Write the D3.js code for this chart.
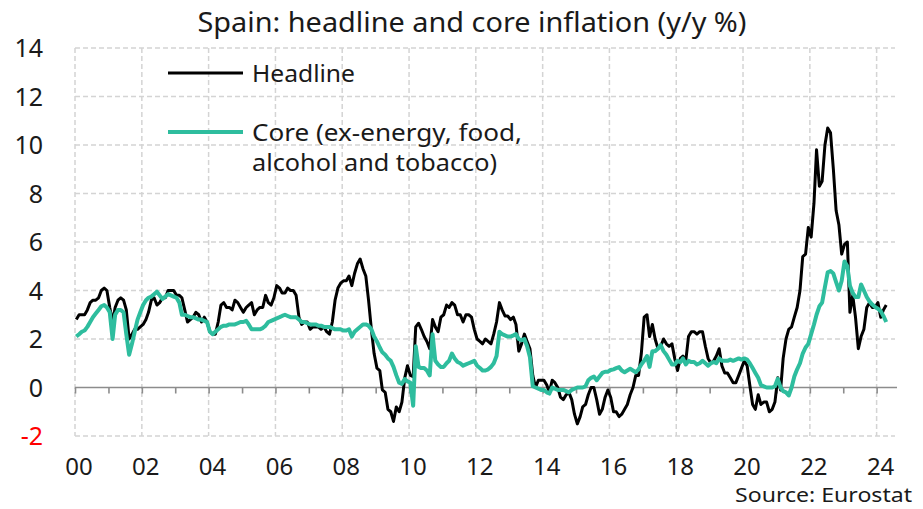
<!DOCTYPE html>
<html><head><meta charset="utf-8">
<script src="https://cdn.jsdelivr.net/npm/d3@7"></script>
<style>
html,body{margin:0;padding:0;background:#fff;}
svg text{font-family:"Noto Sans","Open Sans",sans-serif;fill:#1a1a1a;}
</style></head>
<body><svg id="c" width="923" height="509"></svg>
<script>
const startYear = 2000;
const headline = [
2.8,3.0,3.0,3.0,3.2,3.5,3.6,3.6,3.7,4.0,4.1,4.0,
3.3,2.7,3.3,3.6,3.7,3.6,3.2,2.0,2.2,2.4,2.4,2.5,
2.6,2.8,3.1,3.6,3.7,3.4,3.5,3.7,3.7,4.0,4.0,4.0,
3.8,3.8,3.7,3.2,2.7,2.8,2.9,3.1,3.0,2.7,2.9,2.7,
2.3,2.2,2.2,2.7,3.4,3.5,3.3,3.3,3.2,3.6,3.5,3.3,
3.1,3.3,3.4,3.5,3.0,3.2,3.3,3.3,3.8,3.5,3.4,3.7,
4.2,4.1,3.9,3.9,4.1,4.0,4.0,3.8,2.9,2.6,2.7,2.7,
2.4,2.5,2.5,2.5,2.4,2.5,2.3,2.2,2.7,3.6,4.1,4.3,
4.4,4.4,4.6,4.2,4.7,5.1,5.3,4.9,4.6,3.6,2.4,1.4,
0.8,0.7,-0.1,-0.2,-0.9,-1.0,-1.4,-0.8,-1.0,-0.6,0.4,0.9,
0.5,0.45,2.5,2.65,2.4,2.1,1.9,1.6,2.8,2.5,2.3,2.9,
3.0,3.4,3.3,3.5,3.4,3.0,3.0,2.7,3.0,3.0,2.9,2.4,
2.0,1.9,1.8,2.0,1.9,1.8,2.2,2.7,3.5,3.2,2.95,2.95,
2.8,2.9,2.6,1.5,1.8,2.2,1.9,1.6,0.5,0.0,0.3,0.3,
0.3,0.1,-0.2,0.3,0.2,0.0,-0.4,-0.5,-0.3,-0.2,-0.5,-1.1,
-1.5,-1.2,-0.8,-0.7,-0.3,0.0,0.0,-0.5,-1.1,-0.9,-0.4,-0.1,
-0.4,-1.0,-1.0,-1.2,-1.1,-0.9,-0.7,-0.3,0.0,0.5,0.5,1.4,
2.9,3.0,2.1,2.6,2.0,1.6,1.7,2.0,1.8,1.7,1.8,1.2,
0.7,1.2,1.3,1.1,2.1,2.3,2.3,2.2,2.3,2.3,1.7,1.2,
1.0,1.1,1.3,1.6,0.9,0.6,0.6,0.4,0.2,0.2,0.5,0.8,
1.1,0.9,0.1,-0.7,-0.9,-0.3,-0.7,-0.6,-0.6,-1.0,-0.9,-0.6,
0.4,-0.1,1.2,2.0,2.4,2.5,2.9,3.3,4.0,5.4,5.5,6.6,
6.2,7.6,9.8,8.3,8.5,10.0,10.7,10.5,9.0,7.3,6.7,5.5,
5.9,6.0,3.1,3.8,2.9,1.6,2.1,2.4,3.3,3.5,3.3,3.3,
3.5,2.9,3.2,3.4
];
const core = [
2.1,2.2,2.3,2.35,2.5,2.7,2.9,3.05,3.2,3.35,3.4,3.3,
3.1,2.0,3.0,3.2,3.2,3.1,2.2,1.35,1.8,2.3,2.8,3.1,
3.4,3.6,3.7,3.75,3.85,3.95,3.8,3.65,3.75,3.85,3.8,3.75,
3.7,3.5,3.0,3.0,2.95,2.9,2.9,2.85,2.8,2.8,2.75,2.7,
2.3,2.2,2.3,2.4,2.5,2.55,2.55,2.6,2.6,2.6,2.65,2.7,
2.7,2.75,2.6,2.4,2.4,2.4,2.4,2.45,2.55,2.7,2.75,2.8,
2.85,2.9,2.95,3.0,2.95,2.9,2.9,2.9,2.8,2.7,2.7,2.65,
2.6,2.6,2.6,2.55,2.55,2.5,2.5,2.5,2.45,2.4,2.4,2.4,
2.35,2.35,2.4,2.1,2.3,2.4,2.5,2.6,2.6,2.55,2.4,2.1,
1.9,1.65,1.45,1.35,1.2,1.1,0.85,0.5,0.2,0.15,0.35,0.25,
0.2,-0.75,1.7,0.85,0.8,0.8,0.7,0.5,2.2,1.1,0.95,0.85,
0.85,1.0,1.1,1.4,1.2,1.05,1.0,0.9,0.95,1.0,1.05,1.1,
0.9,0.8,0.7,0.7,0.75,0.85,1.0,1.3,2.3,2.2,2.15,2.1,
2.1,2.15,2.2,2.0,1.95,2.0,1.7,1.25,0.05,0.0,-0.05,-0.1,
-0.1,-0.2,-0.25,0.0,-0.05,-0.1,-0.1,-0.1,-0.15,-0.2,-0.1,-0.05,
0.0,0.0,0.0,0.05,0.3,0.4,0.45,0.3,0.45,0.6,0.65,0.65,
0.72,0.75,0.8,0.84,0.7,0.63,0.7,0.77,0.7,0.63,0.75,0.95,
1.1,1.3,0.85,1.5,1.5,1.6,1.75,1.5,1.35,1.15,0.95,0.95,
1.1,1.05,1.2,0.95,1.1,1.05,1.05,0.95,1.0,1.1,1.0,0.9,
1.0,1.05,1.0,1.2,1.1,1.1,1.1,1.15,1.1,1.15,1.2,1.15,
1.2,1.15,1.0,0.8,0.6,0.4,0.1,0.05,0.0,0.0,0.0,0.05,
0.36,0.0,-0.15,-0.2,-0.33,0.0,0.45,0.75,1.0,1.4,1.65,1.8,
2.2,2.6,3.0,3.35,3.5,4.15,4.75,4.8,4.7,4.35,4.0,4.4,
5.2,5.0,4.2,3.9,3.73,3.73,4.25,4.0,3.73,3.55,3.42,3.32,
3.25,3.15,2.95,2.7
];
const yTicks = [-2,0,2,4,6,8,10,12,14];
const xLabelYears = [2000,2002,2004,2006,2008,2010,2012,2014,2016,2018,2020,2022,2024];
const seriesNames = ["Headline", "Core (ex-energy, food,", "alcohol and tobacco)"];
const titleText = "Spain: headline and core inflation (y/y %)";
const sourceText = "Source: Eurostat";

const colHead = "#000000", colCore = "#2ebd9e";
const svg = d3.select("#c");
const L = 75, R = 895, T = 48, B = 436;
const x = d3.scaleUtc().domain([new Date(Date.UTC(2000,0,1)), new Date(Date.UTC(2024,6,20))]).range([L, R]);
const y = d3.scaleLinear().domain([-2,14]).range([B, T]);
const dateOf = i => new Date(Date.UTC(startYear + Math.floor(i/12), i%12, 15));

// grid
const g = svg.append("g");
g.selectAll(".hg").data(yTicks.filter(v => v !== 0)).join("line")
  .attr("x1", L).attr("x2", R).attr("y1", d => y(d)).attr("y2", d => y(d))
  .attr("stroke", "#d4d4d4").attr("stroke-width", 1.5).attr("stroke-dasharray", "5,3");
g.selectAll(".vg").data(xLabelYears).join("line")
  .attr("x1", d => x(new Date(Date.UTC(d,0,1)))).attr("x2", d => x(new Date(Date.UTC(d,0,1))))
  .attr("y1", T).attr("y2", B)
  .attr("stroke", "#d4d4d4").attr("stroke-width", 1.5).attr("stroke-dasharray", "5,3");

// zero axis with yearly ticks
const xAxis = d3.axisBottom(x).ticks(d3.utcYear.every(1)).tickSize(6).tickFormat("");
const ax = svg.append("g").attr("transform", `translate(0,${y(0)})`).call(xAxis);
ax.select(".domain").attr("stroke", "#8c8c8c").attr("stroke-width", 1.6).attr("d", `M${L},0H${R+2}`);
ax.selectAll(".tick line").attr("stroke", "#8c8c8c").attr("stroke-width", 1.6);

// x labels
svg.selectAll(".xl").data(xLabelYears).join("text")
  .attr("x", d => x(new Date(Date.UTC(d,0,1))) + 4).attr("y", 475)
  .attr("text-anchor", "middle").attr("font-size", 24)
  .text(d => String(d % 100).padStart(2, "0"));

// y labels
svg.selectAll(".yl").data(yTicks).join("text")
  .attr("x", 43).attr("y", d => y(d)).attr("dy", "0.36em")
  .attr("text-anchor", "end").attr("font-size", 25)
  .style("fill", d => d < 0 ? "#ff0000" : "#1a1a1a")
  .text(d => d);

// lines
const line = d3.line().x((d, i) => x(dateOf(i))).y(d => y(d));
svg.append("path").datum(headline).attr("d", line).attr("fill", "none")
  .attr("stroke", colHead).attr("stroke-width", 3).attr("stroke-linejoin", "round");
svg.append("path").datum(core).attr("d", line).attr("fill", "none")
  .attr("stroke", colCore).attr("stroke-width", 4).attr("stroke-linejoin", "round");

// title
svg.append("text").attr("x", 472).attr("y", 32).attr("text-anchor", "middle")
  .attr("font-size", 27).attr("textLength", 549).attr("lengthAdjust", "spacingAndGlyphs").text(titleText);

// legend
const lg = svg.append("g");
lg.append("line").attr("x1", 168).attr("x2", 243).attr("y1", 73).attr("y2", 73)
  .attr("stroke", colHead).attr("stroke-width", 3);
lg.append("text").attr("x", 252).attr("y", 73).attr("dy", "0.36em").attr("font-size", 24)
  .attr("textLength", 103).attr("lengthAdjust", "spacingAndGlyphs").text(seriesNames[0]);
lg.append("line").attr("x1", 168).attr("x2", 243).attr("y1", 132).attr("y2", 132)
  .attr("stroke", colCore).attr("stroke-width", 4);
lg.append("text").attr("x", 252).attr("y", 132).attr("dy", "0.36em").attr("font-size", 24)
  .attr("textLength", 270).attr("lengthAdjust", "spacingAndGlyphs").text(seriesNames[1]);
lg.append("text").attr("x", 252).attr("y", 162).attr("dy", "0.36em").attr("font-size", 24)
  .attr("textLength", 245).attr("lengthAdjust", "spacingAndGlyphs").text(seriesNames[2]);

// source
svg.append("text").attr("x", 912).attr("y", 495).attr("dy", "0.36em").attr("text-anchor", "end")
  .attr("font-size", 20).attr("textLength", 177).attr("lengthAdjust", "spacingAndGlyphs").text(sourceText);
</script></body></html>
